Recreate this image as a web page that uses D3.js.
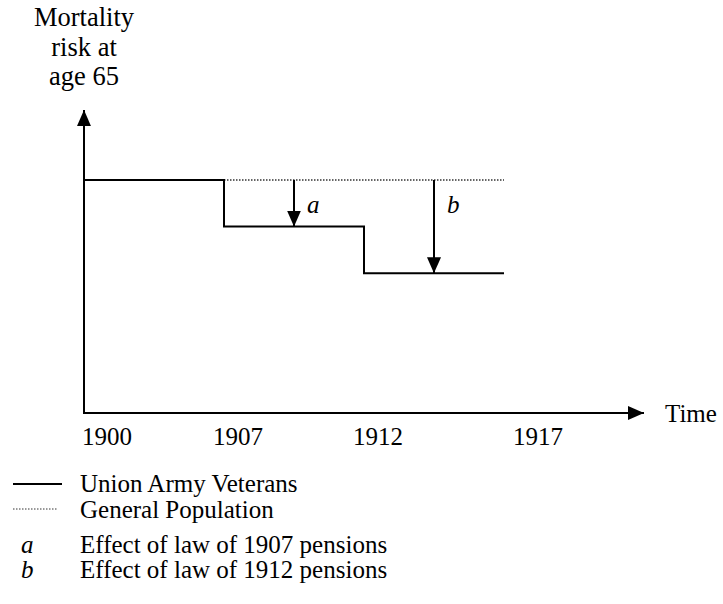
<!DOCTYPE html>
<meta charset="utf-8">
<body style="margin:0">
<svg width="723" height="604"></svg>
<script src="https://d3js.org/d3.v7.min.js"></script>
<script>

// years on the time axis
var years = [1900, 1907, 1912, 1917];
var axisEndYear = 1922;

// Union Army veterans: mortality level from each year to the next
var veteranStart = [1900, 1907, 1912];
var veteranLevel = [1.0, 0.8, 0.6];

// general population stays at the initial level
var generalYears = [1907, 1917];
var generalLevel = 1.0;

// pension effects, drawn as arrows
var effectLabels = ["a", "b"];
var effectYears = [1909.5, 1914.5];
var effectTo = [0.8, 0.6];

var legendLines = ["Union Army Veterans", "General Population"];
var legendEffects = ["Effect of law of 1907 pensions", "Effect of law of 1912 pensions"];

var svg = d3.select("svg");

var x = d3.scaleLinear().domain(years).range([84, 224, 364, 504]);
var xLabel = d3.scaleLinear().domain(years).range([82, 213, 353, 513]);
var y = d3.scaleLinear().domain([0, 1]).range([413, 180]);
var yAxisTop = 1.3;

var defs = svg.append("defs");
defs.append("marker")
    .attr("id", "head")
    .attr("viewBox", "0 0 16 14")
    .attr("refX", 16)
    .attr("refY", 7)
    .attr("markerWidth", 16)
    .attr("markerHeight", 14)
    .attr("markerUnits", "userSpaceOnUse")
    .attr("orient", "auto")
  .append("path")
    .attr("d", "M0,0L16,7L0,14Z")
    .attr("fill", "#000");

function solid(sel, w) {
  return sel.attr("stroke", "#000").attr("stroke-width", w || 2).attr("fill", "none");
}
function dotted(sel, w) {
  return sel.attr("stroke", "#333").attr("stroke-width", w || 1.5)
      .attr("stroke-dasharray", "1.5,1.5").attr("fill", "none");
}

// axes
solid(svg.append("line"))
    .attr("x1", x(1900)).attr("y1", y(0) + 1)
    .attr("x2", x(1900)).attr("y2", y(yAxisTop))
    .attr("marker-end", "url(#head)");
solid(svg.append("line"))
    .attr("x1", x(1900) - 1).attr("y1", y(0))
    .attr("x2", x(axisEndYear)).attr("y2", y(0))
    .attr("marker-end", "url(#head)");

svg.append("text")
    .attr("x", x(axisEndYear) + 21)
    .attr("y", y(0) + 9)
    .text("Time");

var yTitle = svg.append("text")
    .attr("class", "big")
    .attr("text-anchor", "middle");
["Mortality", "risk at", "age 65"].forEach(function(t, i) {
  yTitle.append("tspan")
      .attr("x", x(1900))
      .attr("y", 26 + i * 29.5)
      .text(t);
});

svg.append("g").selectAll("text")
    .data(years)
    .enter().append("text")
    .attr("x", function(d) { return xLabel(d); })
    .attr("y", 445)
    .text(function(d) { return d; });

// general population (dotted)
dotted(svg.append("line"))
    .attr("x1", x(generalYears[0])).attr("y1", y(generalLevel))
    .attr("x2", x(generalYears[1])).attr("y2", y(generalLevel));

// veterans step line
var stepData = veteranStart.map(function(d, i) { return {year: d, v: veteranLevel[i]}; });
stepData.push({year: years[years.length - 1], v: veteranLevel[veteranLevel.length - 1]});
solid(svg.append("path"))
    .attr("d", d3.line()
        .x(function(d) { return x(d.year); })
        .y(function(d) { return y(d.v); })
        .curve(d3.curveStepAfter)(stepData));

// effect arrows
var eff = svg.append("g")
    .selectAll("g")
    .data(effectLabels)
    .enter().append("g");
solid(eff.append("line"))
    .attr("x1", function(d, i) { return x(effectYears[i]); })
    .attr("x2", function(d, i) { return x(effectYears[i]); })
    .attr("y1", y(generalLevel))
    .attr("y2", function(d, i) { return y(effectTo[i]); })
    .attr("marker-end", "url(#head)");
eff.append("text")
    .attr("class", "it")
    .attr("x", function(d, i) { return x(effectYears[i]) + 13; })
    .attr("y", 213)
    .text(function(d) { return d; });

// legend
var leg = svg.append("g");
solid(leg.append("line"))
    .attr("x1", 13).attr("x2", 62)
    .attr("y1", 484).attr("y2", 484);
dotted(leg.append("line"), 1)
    .attr("x1", 13).attr("x2", 57)
    .attr("y1", 509).attr("y2", 509);
leg.selectAll("text.ln")
    .data(legendLines)
    .enter().append("text")
    .attr("class", "ln")
    .attr("x", 80)
    .attr("y", function(d, i) { return 492 + i * 26; })
    .text(function(d) { return d; });
leg.selectAll("text.ef")
    .data(legendEffects)
    .enter().append("text")
    .attr("class", "ef")
    .attr("x", 80)
    .attr("y", function(d, i) { return 553 + i * 25; })
    .text(function(d) { return d; });
leg.selectAll("text.lt")
    .data(effectLabels)
    .enter().append("text")
    .attr("class", "it")
    .attr("x", 21)
    .attr("y", function(d, i) { return 553 + i * 25; })
    .text(function(d) { return d; });

// font on every text node
svg.selectAll("text")
    .style("font-family", "'Liberation Serif'")
    .style("font-size", "25px")
    .style("fill", "#000");
svg.selectAll("text.big").style("font-size", "26.5px");
svg.selectAll("text.it").style("font-style", "italic");

</script>
